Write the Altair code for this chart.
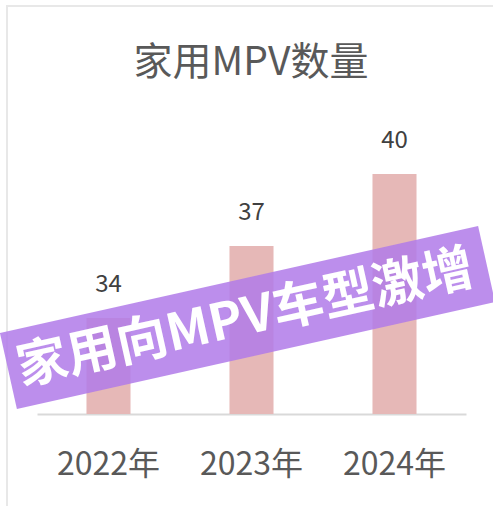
import altair as alt
import pandas as pd

# ---- data ----
years = ["2022年", "2023年", "2024年"]
counts = [34, 37, 40]
title_text = ["家用MPV数量"]
banner_text = ["家用向MPV车型激增"]
axis_floor = 30

FONT = "Noto Sans CJK SC"

df = pd.DataFrame({"year": years, "count": counts})

W, H = 429, 288
PAD_L, PAD_T = 37, 126

x = alt.X("year:N", sort=years, title=None,
          scale=alt.Scale(paddingInner=0.692, paddingOuter=0.346),
          axis=alt.Axis(labelAngle=0, labelFontSize=32, labelColor="#595959",
                        labelFont=FONT, ticks=False, tickSize=0,
                        labelPadding=50, labelBaseline="middle",
                        domainColor="#d9d9d9", domainWidth=2, grid=False))
y = alt.Y("count:Q", title=None, axis=None,
          scale=alt.Scale(domain=[axis_floor, 42], nice=False, zero=False))

bars = alt.Chart(df).mark_bar(color="#e6b8b7").encode(
    x=x, y=y, y2=alt.datum(axis_floor))
labels = alt.Chart(df).mark_text(fontSize=24, color="#404040", font=FONT,
                                 baseline="middle", dy=-33).encode(
    x=x, y=y, text="count:Q")

frame = alt.Chart(pd.DataFrame({"a": [0]})).mark_rect(
    fill=None, stroke="#e8e8e8", strokeWidth=2).encode(
    x=alt.value(7 - PAD_L), y=alt.value(6 - PAD_T),
    x2=alt.value(520 - PAD_L), y2=alt.value(530 - PAD_T))

title = alt.Chart(pd.DataFrame({"t": title_text})).mark_text(
    fontSize=39, color="#595959", font=FONT, align="center",
    baseline="middle").encode(
    x=alt.value(251 - PAD_L), y=alt.value(63 - PAD_T), text="t:N")

BX, BY = 247.5 - PAD_L, 317.5 - PAD_T
ANG = 347.4
banner = alt.Chart(pd.DataFrame({"t": banner_text})).mark_point(
    shape="M-1,-0.159L1,-0.159L1,0.159L-1,0.159Z", filled=True,
    fill="#b07ae9", opacity=0.85, strokeWidth=0, size=240100,
    angle=ANG).encode(x=alt.value(BX), y=alt.value(BY))
banner_label = alt.Chart(pd.DataFrame({"t": banner_text})).mark_text(
    fontSize=51, fontWeight="bold", color="white", font=FONT,
    align="center", baseline="middle", angle=ANG).encode(
    x=alt.value(BX - 2), y=alt.value(BY + 2), text="t:N")

chart = alt.layer(frame, bars, labels, title, banner, banner_label).properties(
    width=W, height=H,
    autosize=alt.AutoSizeParams(type="none"),
    padding={"left": PAD_L, "top": PAD_T, "right": 493 - PAD_L - W,
             "bottom": 506 - PAD_T - H},
    background="white",
).configure_view(stroke=None)

chart.save("out.html", embed_options={"renderer": "svg", "actions": False})
